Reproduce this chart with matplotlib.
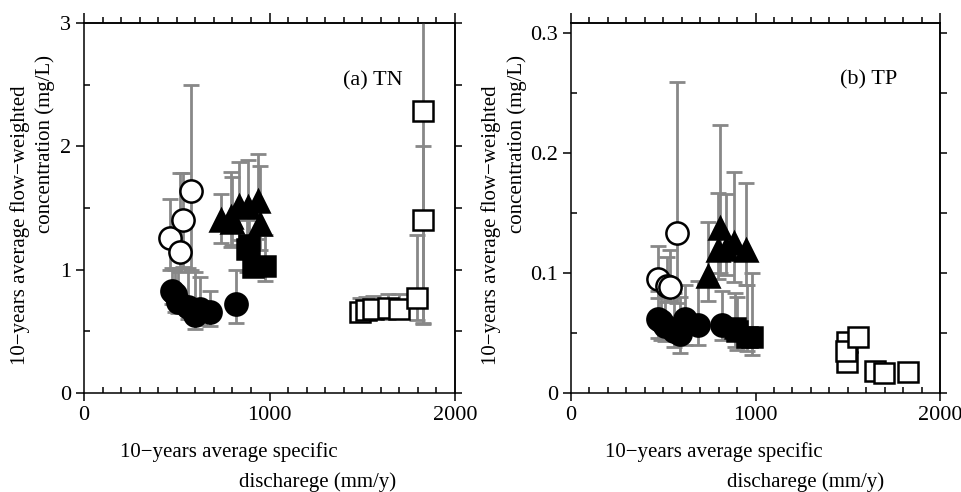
import numpy as np
import matplotlib
matplotlib.use("Agg")
import matplotlib.pyplot as plt
from matplotlib.ticker import MultipleLocator

plt.rcParams['font.family'] = ['Liberation Serif', 'DejaVu Serif']
plt.rcParams['font.size'] = 15

# ---- (a) TN ----
tn_oc_x = [462, 520, 532, 575]
tn_oc_y = [1.26, 1.14, 1.40, 1.64]
tn_oc_lo = [1.00, 0.98, 1.02, 1.00]
tn_oc_hi = [1.57, 1.78, 1.78, 2.50]

tn_fc_x = [473, 490, 508, 562, 598, 625, 679, 819]
tn_fc_y = [0.83, 0.80, 0.74, 0.70, 0.63, 0.685, 0.66, 0.72]
tn_fc_lo = [0.72, 0.66, 0.65, 0.60, 0.52, 0.55, 0.54, 0.57]
tn_fc_hi = [1.01, 1.00, 1.01, 1.01, 0.98, 0.94, 0.83, 1.00]

tn_tr_x = [739, 791, 800, 837, 882, 940, 949]
tn_tr_y = [1.40, 1.43, 1.39, 1.52, 1.51, 1.56, 1.37]
tn_tr_lo = [1.22, 1.18, 1.20, 1.24, 1.21, 1.25, 1.16]
tn_tr_hi = [1.61, 1.79, 1.75, 1.875, 1.89, 1.94, 1.84]

tn_fs_x = [877, 890, 913, 976]
tn_fs_y = [1.17, 1.20, 1.02, 1.03]
tn_fs_lo = [0.98, 1.00, 0.95, 0.905]
tn_fs_hi = [1.40, 1.45, 1.25, 1.28]

tn_os_x = [1490, 1520, 1560, 1640, 1700, 1795, 1830, 1830]
tn_os_y = [0.66, 0.67, 0.68, 0.69, 0.68, 0.77, 1.40, 2.29]
tn_os_lo = [0.60, 0.60, 0.62, 0.60, 0.61, 0.59, 0.57, 0.56]
tn_os_hi = [0.77, 0.78, 0.79, 0.80, 0.80, 1.28, 2.00, 3.50]

# ---- (b) TP ----
tp_oc_x = [469, 520, 538, 577]
tp_oc_y = [0.095, 0.089, 0.088, 0.133]
tp_oc_lo = [0.079, 0.076, 0.077, 0.075]
tp_oc_hi = [0.1225, 0.113, 0.119, 0.259]

tp_fc_x = [469, 490, 510, 556, 592, 619, 687, 821]
tp_fc_y = [0.062, 0.060, 0.056, 0.052, 0.0495, 0.062, 0.0565, 0.0565]
tp_fc_lo = [0.046, 0.044, 0.043, 0.038, 0.033, 0.040, 0.040, 0.044]
tp_fc_hi = [0.085, 0.088, 0.085, 0.083, 0.080, 0.090, 0.093, 0.085]

tp_tr_x = [745, 799, 808, 841, 884, 947]
tp_tr_y = [0.097, 0.119, 0.137, 0.120, 0.1245, 0.119]
tp_tr_lo = [0.0764, 0.095, 0.100, 0.098, 0.092, 0.090]
tp_tr_hi = [0.1425, 0.1667, 0.223, 0.166, 0.184, 0.175]

tp_fs_x = [890, 902, 953, 980]
tp_fs_y = [0.054, 0.052, 0.047, 0.047]
tp_fs_lo = [0.038, 0.036, 0.035, 0.032]
tp_fs_hi = [0.083, 0.080, 0.090, 0.100]

tp_os_x = [1494, 1494, 1490, 1554, 1648, 1698, 1828]
tp_os_y = [0.0425, 0.026, 0.035, 0.047, 0.018, 0.0167, 0.0175]

GRAY = '#888888'


def series(ax, x, y, lo, hi, marker, face, ms):
    x = np.asarray(x); y = np.asarray(y)
    if lo is not None:
        yerr = [y - np.asarray(lo), np.asarray(hi) - y]
        ax.errorbar(x, y, yerr=yerr, fmt='none', ecolor=GRAY, elinewidth=2,
                    capsize=5.5, capthick=2, zorder=1, clip_on=True)
    ax.plot(x, y, marker, ms=ms, mfc=face, mec='black', mew=1.8,
            ls='none', zorder=3)


def style(ax, ymax, ymajor, yminor):
    ax.set_xlim(0, 2000)
    ax.set_ylim(0, ymax)
    ax.xaxis.set_major_locator(MultipleLocator(1000))
    ax.xaxis.set_minor_locator(MultipleLocator(100))
    ax.yaxis.set_major_locator(MultipleLocator(ymajor))
    ax.yaxis.set_minor_locator(MultipleLocator(yminor))
    ax.tick_params(which='major', direction='out', length=6, width=1.1,
                   top=False, right=False, labelsize=16)
    ax.tick_params(which='minor', direction='in', length=4, width=1.1,
                   top=False, right=False)
    for s in ax.spines.values():
        s.set_linewidth(1.1)
    top = ax.secondary_xaxis('top')
    top.xaxis.set_major_locator(MultipleLocator(1000))
    top.xaxis.set_minor_locator(MultipleLocator(100))
    top.tick_params(which='major', direction='out', length=7, width=1.1, labeltop=False)
    top.tick_params(which='minor', direction='out', length=4, width=1.1)
    top.spines['top'].set_linewidth(1.1)
    right = ax.secondary_yaxis('right')
    right.yaxis.set_major_locator(MultipleLocator(yminor))
    right.tick_params(which='major', direction='out', length=5, width=1.1, labelright=False)
    right.spines['right'].set_linewidth(1.1)


fig = plt.figure(figsize=(9.61, 4.92), dpi=100)
axa = fig.add_axes([84 / 961, 99 / 492, 371 / 961, 370 / 492])
axb = fig.add_axes([571 / 961, 99 / 492, 369 / 961, 370 / 492])

series(axa, tn_oc_x, tn_oc_y, tn_oc_lo, tn_oc_hi, 'o', 'white', 16)
series(axa, tn_fc_x, tn_fc_y, tn_fc_lo, tn_fc_hi, 'o', 'black', 16)
series(axa, tn_tr_x, tn_tr_y, tn_tr_lo, tn_tr_hi, '^', 'black', 16)
series(axa, tn_fs_x, tn_fs_y, tn_fs_lo, tn_fs_hi, 's', 'black', 15)
series(axa, tn_os_x, tn_os_y, tn_os_lo, tn_os_hi, 's', 'white', 15)
style(axa, 3, 1, 0.5)
axa.text(1396, 2.53, '(a) TN', fontsize=16, va='center', ha='left')

series(axb, tp_oc_x, tp_oc_y, tp_oc_lo, tp_oc_hi, 'o', 'white', 16)
series(axb, tp_fc_x, tp_fc_y, tp_fc_lo, tp_fc_hi, 'o', 'black', 16)
series(axb, tp_tr_x, tp_tr_y, tp_tr_lo, tp_tr_hi, '^', 'black', 16)
series(axb, tp_fs_x, tp_fs_y, tp_fs_lo, tp_fs_hi, 's', 'black', 15)
series(axb, tp_os_x, tp_os_y, None, None, 's', 'white', 15)
style(axb, 0.308, 0.1, 0.05)
axb.yaxis.set_major_formatter(plt.FuncFormatter(lambda v, p: '0' if v == 0 else f'{v:.1f}'))
axb.text(1458, 0.2606, '(b) TP', fontsize=16, va='center', ha='left')

# axis labels (two-line, offset as in the original)
for x1, x2 in [(20, 45), (491, 517)]:
    fig.text(x1 / 961, 1 - 225 / 492, '10\u2212years average flow\u2212weighted',
             rotation=90, ha='center', va='center', fontsize=15)
    fig.text(x2 / 961, 1 - 144 / 492, 'concentration (mg/L)',
             rotation=90, ha='center', va='center', fontsize=15)
for x1, x2 in [(229, 318), (714, 806)]:
    fig.text(x1 / 961, 1 - 452 / 492, '10\u2212years average specific',
             ha='center', va='center', fontsize=15)
    fig.text(x2 / 961, 1 - 482 / 492, 'discharege (mm/y)',
             ha='center', va='center', fontsize=15)

fig.savefig('out.png', dpi=100)
